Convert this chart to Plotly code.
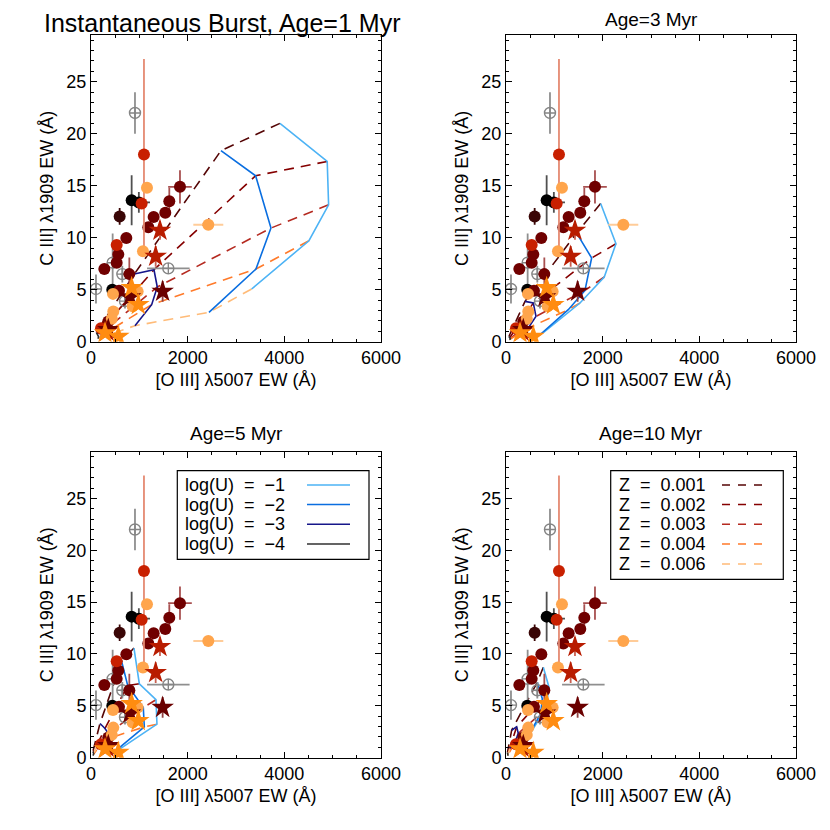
import plotly.graph_objects as go

# ---------------- observed data (same in all panels) ----------------
gray_x = [910, 1600, 448, 648, 103, 703]
gray_y = [22.0, 7.05, 7.6, 6.5, 5.07, 3.9]
gray_ex = [0, 440, 0, 40, 40, 0]
gray_ey = [2.0, 0, 2.8, 0.8, 1.4, 0.7]

black_x = [841, 990, 440]
black_y = [13.6, 13.4, 5.0]
black_ex = [0, 230, 0]
black_ey = [2.4, 1.0, 0]

vdark_x = [593]
vdark_y = [12.05]
vdark_ex = [70]
vdark_ey = [0.8]

dred_x = [1841, 1620, 1537, 1296, 1186, 731, 565, 531, 276, 793, 579, 358]
dred_y = [14.9, 13.5, 12.4, 12.0, 11.0, 9.97, 8.4, 7.6, 7.0, 6.5, 4.9, 1.95]
dred_ex = [245, 0, 90, 0, 0, 0, 90, 0, 0, 0, 0, 0]
dred_ey = [1.6, 1.3, 0, 0, 0, 0, 0, 0, 0, 1.6, 0, 0]

red_x = [1096, 1048, 207, 531]
red_y = [18.0, 13.3, 1.3, 9.3]
red_ex = [0, 0, 0, 0]
red_ey = [9.2, 0, 0, 0]

lor_x = [1158, 1075, 2427, 965, 862, 461, 455, 430]
lor_y = [14.8, 8.7, 11.25, 4.84, 3.4, 2.9, 4.6, 2.2]
lor_ex = [0, 0, 310, 0, 0, 0, 0, 0]
lor_ey = [0, 0, 0, 0, 0, 0, 0, 0]

rstar_x = [1427, 1338, 330]
rstar_y = [10.7, 8.2, 1.0]
rstar_ey = [0.9, 1.0, 0]

dstar_x = [1482, 807, 358]
dstar_y = [4.84, 4.3, 1.15]
dstar_ey = [1.0, 0, 0]

ostar_x = [841, 979, 290, 565]
ostar_y = [5.2, 3.56, 0.84, 0.5]

# ---------------- model grids: [logU index][Z index] ----------------
logU_labels = ["-1", "-2", "-3", "-4"]
Z_labels = ["0.001", "0.002", "0.003", "0.004", "0.006"]
ages = ["Instantaneous Burst, Age=1 Myr", "Age=3 Myr", "Age=5 Myr", "Age=10 Myr"]

model_x = {
    "1": [[3909, 4887, 4916, 4509, 3324],
          [2689, 3406, 3723, 3413, 2441],
          [896, 1303, 1371, 1255, 910],
          [110, 130, 150, 160, 140]],
    "3": [[1958, 2275, 2033, 1531, 772],
          [1462, 1772, 1634, 1289, 703],
          [393, 565, 620, 461, 290],
          [60, 80, 90, 85, 70]],
    "5": [[889, 1000, 1344, 1365, 531],
          [634, 759, 1082, 1103, 483],
          [186, 290, 358, 255, 117],
          [40, 50, 55, 50, 40]],
    "10": [[772, 889, 841, 669, 393],
           [648, 751, 717, 565, 324],
           [117, 220, 255, 186, 83],
           [30, 40, 45, 40, 30]],
}
model_y = {
    "1": [[21.0, 17.34, 13.17, 9.71, 5.07],
          [18.37, 15.96, 10.93, 6.99, 2.82],
          [6.51, 6.92, 5.26, 3.56, 1.54],
          [0.9, 0.75, 0.6, 0.45, 0.3]],
    "3": [[13.3, 9.42, 6.22, 3.72, 0.87],
          [10.45, 8.05, 4.93, 3.08, 0.67],
          [3.88, 3.72, 2.43, 1.32, 0.67],
          [0.5, 0.4, 0.3, 0.25, 0.2]],
    "5": [[10.57, 7.13, 5.59, 3.23, 0.64],
          [9.29, 6.96, 4.83, 2.97, 0.57],
          [3.3, 2.82, 2.34, 1.7, 1.05],
          [0.6, 0.5, 0.4, 0.3, 0.2]],
    "10": [[8.72, 6.8, 5.21, 3.61, 1.53],
           [7.28, 5.69, 4.25, 2.97, 1.22],
           [2.65, 2.97, 2.34, 1.53, 0.9],
           [0.5, 0.4, 0.3, 0.25, 0.2]],
}
age_keys = ["1", "3", "5", "10"]

U_colors = ["#4db3f5", "#0a6ee0", "#16168a", "#303030"]
Z_colors = ["#550505", "#850000", "#b52a20", "#ff7a2a", "#ffbb78"]

W, H = 830, 830
OFF = 8  # page body margin
panels = [  # left, right, top, bottom in screen px
    (91, 381, 35, 341.7),
    (506, 796, 35, 341.7),
    (91, 381, 451.7, 757.7),
    (506, 796, 451.7, 757.7),
]

def fx(px):
    return (px - OFF) / W

def fy(py):
    return 1 - (py - OFF) / H

fig = go.Figure()

def ax(i):
    return ("x" if i == 0 else f"x{i+1}"), ("y" if i == 0 else f"y{i+1}")

for i, key in enumerate(age_keys):
    xa, ya = ax(i)
    mx, my = model_x[key], model_y[key]
    # Z curves (dashed)
    for zi in range(5):
        fig.add_trace(go.Scatter(
            x=[mx[u][zi] for u in range(4)], y=[my[u][zi] for u in range(4)],
            mode="lines", line=dict(color=Z_colors[zi], width=1.6, dash="10px,7px"),
            xaxis=xa, yaxis=ya, showlegend=False, hoverinfo="skip"))
    # U curves (solid)
    for u in range(4):
        fig.add_trace(go.Scatter(
            x=mx[u], y=my[u], mode="lines",
            line=dict(color=U_colors[u], width=1.6),
            xaxis=xa, yaxis=ya, showlegend=False, hoverinfo="skip"))

    def obs(x, y, ex, ey, color, ecolor, symbol="circle", size=12, open_=False):
        marker = dict(color=color, size=size, symbol=symbol)
        if open_:
            marker = dict(color=color, size=size, symbol=symbol, line=dict(color=color, width=1.4))
        fig.add_trace(go.Scatter(
            x=x, y=y, mode="markers", marker=marker,
            error_x=dict(type="data", array=ex, visible=True, width=0, thickness=1.8, color=ecolor),
            error_y=dict(type="data", array=ey, visible=True, width=0, thickness=1.8, color=ecolor),
            xaxis=xa, yaxis=ya, showlegend=False))

    zeros = lambda n: [0] * n
    obs(gray_x, gray_y, gray_ex, gray_ey, "#858585", "#8f8f8f", "circle-cross-open", 11, True)
    obs(black_x, black_y, black_ex, black_ey, "#000000", "#505050")
    obs(vdark_x, vdark_y, vdark_ex, vdark_ey, "#3a0606", "#3a0606")
    obs(dred_x, dred_y, dred_ex, dred_ey, "#700000", "#a85050")
    obs(red_x, red_y, red_ex, red_ey, "#c82000", "#e58a72")
    obs(lor_x, lor_y, lor_ex, lor_ey, "#ffa54c", "#ffcc99")
    obs(rstar_x, rstar_y, zeros(3), rstar_ey, "#b81c00", "#c86050", "star", 17)
    obs(dstar_x, dstar_y, zeros(3), dstar_ey, "#6a0000", "#904040", "star", 17)
    obs(ostar_x, ostar_y, zeros(4), zeros(4), "#ff8c10", "#ffb060", "star", 17)

layout = dict(width=W, height=H, margin=dict(l=0, r=0, t=0, b=0, autoexpand=False),
              plot_bgcolor="white", paper_bgcolor="white",
              font=dict(family="Liberation Sans, Arial, sans-serif", size=18, color="black"),
              showlegend=False)

xt = "[O III] λ5007 EW (Å)"
yt = "C III] λ1909 EW (Å)"
for i, (l, r, t, b) in enumerate(panels):
    xname = "xaxis" if i == 0 else f"xaxis{i+1}"
    yname = "yaxis" if i == 0 else f"yaxis{i+1}"
    xa, ya = ax(i)
    layout[xname] = dict(
        domain=[fx(l), fx(r)], anchor=ya, range=[0, 6000], automargin=False,
        tick0=0, dtick=2000, ticks="inside", ticklen=6, tickwidth=1, tickcolor="black",
        minor=dict(ticks="inside", dtick=500, ticklen=3, tickcolor="black"),
        showline=True, linecolor="black", linewidth=1, mirror="allticks",
        showgrid=False, zeroline=False, tickfont=dict(size=18),
        title=dict(text=xt, font=dict(size=18), standoff=6))
    layout[yname] = dict(
        domain=[fy(b), fy(t)], anchor=xa, range=[0, 29.5], automargin=False,
        tick0=0, dtick=5, ticks="inside", ticklen=6, tickwidth=1, tickcolor="black",
        minor=dict(ticks="inside", dtick=1, ticklen=3, tickcolor="black"),
        showline=True, linecolor="black", linewidth=1, mirror="allticks",
        showgrid=False, zeroline=False, tickfont=dict(size=18),
        title=dict(text=yt, font=dict(size=18), standoff=8))

fig.update_layout(**layout)

# panel titles (top row anchored at the top edge so nothing is clipped)
title_x = [222, 651, 236, 651]
title_size = [25, 19, 19, 19]
for i in range(4):
    if i < 2:
        fig.add_annotation(text=ages[i], x=fx(title_x[i]), y=1.0,
                           xref="paper", yref="paper", showarrow=False, borderpad=0,
                           xanchor="center", yanchor="top", font=dict(size=title_size[i]))
    else:
        fig.add_annotation(text=ages[i], x=fx(title_x[i]), y=fy(433),
                           xref="paper", yref="paper", showarrow=False,
                           xanchor="center", yanchor="middle", font=dict(size=title_size[i]))

# legend: logU (bottom-left panel)
fig.add_shape(type="rect", xref="paper", yref="paper",
              x0=fx(177.3), x1=fx(369), y0=fy(559.3), y1=fy(470.7),
              line=dict(color="black", width=1.2), fillcolor="white")
urows = [485, 504.5, 524.3, 544]
for k in range(4):
    fig.add_annotation(text=f"log(U)  =  \u2212{logU_labels[k][1:]}", x=fx(183), y=fy(urows[k]),
                       xref="paper", yref="paper", showarrow=False,
                       xanchor="left", yanchor="middle", font=dict(size=18))
    fig.add_shape(type="line", xref="paper", yref="paper",
                  x0=fx(307), x1=fx(350), y0=fy(urows[k]), y1=fy(urows[k]),
                  line=dict(color=U_colors[k], width=1.6))

# legend: Z (bottom-right panel)
fig.add_shape(type="rect", xref="paper", yref="paper",
              x0=fx(610.7), x1=fx(783.3), y0=fy(579.3), y1=fy(470.7),
              line=dict(color="black", width=1.2), fillcolor="white")
zrows = [485, 504.5, 524.3, 544, 564]
for k in range(5):
    fig.add_annotation(text=f"Z  =  {Z_labels[k]}", x=fx(617), y=fy(zrows[k]),
                       xref="paper", yref="paper", showarrow=False,
                       xanchor="left", yanchor="middle", font=dict(size=18))
    fig.add_shape(type="line", xref="paper", yref="paper",
                  x0=fx(722), x1=fx(764), y0=fy(zrows[k]), y1=fy(zrows[k]),
                  line=dict(color=Z_colors[k], width=1.6, dash="8px,8px"))

fig.write_html("out.html")
